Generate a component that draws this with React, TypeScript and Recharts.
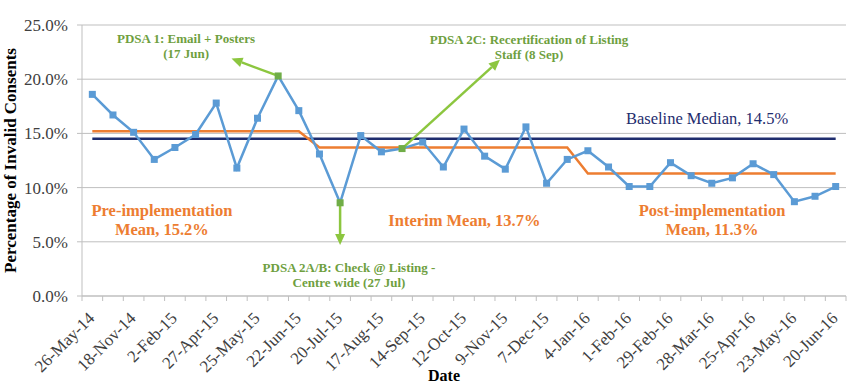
import React from "react";
import {
  CartesianGrid,
  Label,
  Line,
  LineChart,
  ReferenceDot,
  ReferenceLine,
  XAxis,
  YAxis,
} from "recharts";

// fortnightly audit periods (only every other one gets a tick label)
const dates = [
  "26-May-14", "18-Aug-14", "18-Nov-14", "15-Dec-14", "2-Feb-15", "2-Mar-15",
  "27-Apr-15", "11-May-15", "25-May-15", "8-Jun-15", "22-Jun-15", "6-Jul-15",
  "20-Jul-15", "3-Aug-15", "17-Aug-15", "31-Aug-15", "14-Sep-15", "28-Sep-15",
  "12-Oct-15", "26-Oct-15", "9-Nov-15", "23-Nov-15", "7-Dec-15", "21-Dec-15",
  "4-Jan-16", "18-Jan-16", "1-Feb-16", "15-Feb-16", "29-Feb-16", "14-Mar-16",
  "28-Mar-16", "11-Apr-16", "25-Apr-16", "9-May-16", "23-May-16", "6-Jun-16",
  "20-Jun-16",
];

const invalidPct = [
  18.6, 16.7, 15.1, 12.6, 13.7, 14.9, 17.8, 11.8, 16.4, 20.3, 17.1, 13.1,
  8.6, 14.8, 13.3, 13.6, 14.2, 11.9, 15.4, 12.9, 11.7, 15.6, 10.4, 12.6,
  13.4, 11.9, 10.1, 10.1, 12.3, 11.1, 10.4, 10.9, 12.2, 11.2, 8.7, 9.2, 10.1,
];

// phase means: pre-implementation, interim, post-implementation
const phaseMean = [
  15.2, 15.2, 15.2, 15.2, 15.2, 15.2, 15.2, 15.2, 15.2, 15.2, 15.2,
  13.7, 13.7, 13.7, 13.7, 13.7, 13.7, 13.7, 13.7, 13.7, 13.7, 13.7, 13.7, 13.7,
  11.3, 11.3, 11.3, 11.3, 11.3, 11.3, 11.3, 11.3, 11.3, 11.3, 11.3, 11.3, 11.3,
];

const baselineMedian = 14.5;

// periods in which a PDSA cycle started
const pdsaPeriods = [9, 12, 15];

const yTicks = [0, 5, 10, 15, 20, 25];

const data = dates.map((date, i) => ({
  i,
  date,
  pct: invalidPct[i],
  mean: phaseMean[i],
}));

const FONT = "'Liberation Serif', 'Times New Roman', serif";
const BLUE = "#5b9bd5";
const MARKER_GREEN = "#70ad47";
const ARROW_GREEN = "#8cc63f";
const NOTE_GREEN = "#6f9f3f";
const ORANGE = "#ed7d31";
const NAVY = "#1f2d6e";
const GRID = "#bfbfbf";
const TEXT = "#404040";

const CHART_W = 849;
const CHART_H = 386;
const PLOT_LEFT = 82;
const PLOT_RIGHT = 3;
const STEP = (CHART_W - PLOT_LEFT - PLOT_RIGHT) / dates.length;

function DateTick(props: any) {
  const { x, y, index } = props;
  const half = STEP / 2;
  const tx = x - 1;
  const ty = y + 19;
  return (
    <g>
      <line x1={x - half} y1={y} x2={x - half} y2={y + 5} stroke={GRID} />
      {index === dates.length - 1 && (
        <line x1={x + half} y1={y} x2={x + half} y2={y + 5} stroke={GRID} />
      )}
      {index % 2 === 0 && (
        <text
          x={tx}
          y={ty}
          transform={`rotate(-45, ${tx}, ${ty})`}
          textAnchor="end"
          dy="0.35em"
          fontFamily={FONT}
          fontSize={17}
          fill={TEXT}
        >
          {dates[index]}
        </text>
      )}
    </g>
  );
}

function SquareDot(props: any) {
  const { cx, cy, index } = props;
  const fill = pdsaPeriods.includes(index) ? MARKER_GREEN : BLUE;
  return <rect key={index} x={cx - 3.5} y={cy - 3.5} width={7} height={7} fill={fill} />;
}

function Arrow(props: any) {
  const { x1, y1, x2, y2 } = props;
  const a = Math.atan2(y2 - y1, x2 - x1);
  const len = 11;
  const w = 5;
  const bx = x2 - len * Math.cos(a);
  const by = y2 - len * Math.sin(a);
  const px = -Math.sin(a) * w;
  const py = Math.cos(a) * w;
  return (
    <g>
      <line x1={x1} y1={y1} x2={bx} y2={by} stroke={ARROW_GREEN} strokeWidth={2.5} />
      <polygon
        points={`${x2},${y2} ${bx + px},${by + py} ${bx - px},${by - py}`}
        fill={ARROW_GREEN}
      />
    </g>
  );
}

function note(lines: string[], color: string, size: number, bold: boolean, gap: number) {
  return (props: any) => {
    const { cx, cy } = props;
    return (
      <text
        x={cx}
        y={cy}
        textAnchor="middle"
        fontFamily={FONT}
        fontSize={size}
        fontWeight={bold ? "bold" : "normal"}
        fill={color}
      >
        {lines.map((l, k) => (
          <tspan key={k} x={cx} y={cy + k * gap} dy="0.35em">
            {l}
          </tspan>
        ))}
      </text>
    );
  };
}

export default function App() {
  return (
    <div style={{ position: "absolute", left: 0, top: 0 }}>
      <LineChart
        width={CHART_W}
        height={CHART_H}
        data={data}
        margin={{ top: 25, right: PLOT_RIGHT, left: 12, bottom: 0 }}
      >
        <CartesianGrid vertical={false} stroke={GRID} />
        <XAxis
          dataKey="i"
          type="number"
          domain={[-0.5, dates.length - 0.5]}
          ticks={dates.map((_, i) => i)}
          interval={0}
          height={90}
          tickSize={0}
          tickMargin={0}
          tickLine={false}
          axisLine={{ stroke: GRID }}
          tick={(p: any) => <DateTick key={p.index} {...p} />}
        >
          <Label
            content={({ viewBox }: any) => (
              <text
                x={viewBox.x + viewBox.width / 2 - 20}
                y={viewBox.y + viewBox.height - 5}
                textAnchor="middle"
                fontFamily={FONT}
                fontSize={16}
                fontWeight="bold"
                fill="#000"
              >
                Date
              </text>
            )}
          />
        </XAxis>
        <YAxis
          domain={[0, 25]}
          ticks={yTicks}
          width={70}
          tickSize={5}
          tickMargin={9}
          tickLine={{ stroke: GRID }}
          axisLine={{ stroke: GRID }}
          tickFormatter={(v: number) => `${v.toFixed(1)}%`}
          tick={{ fontFamily: FONT, fontSize: 17, fill: TEXT }}
        >
          <Label
            content={({ viewBox }: any) => {
              const cy = viewBox.y + viewBox.height / 2;
              return (
                <text
                  x={10}
                  y={cy}
                  transform={`rotate(-90, 10, ${cy})`}
                  textAnchor="middle"
                  dy="0.35em"
                  fontFamily={FONT}
                  fontSize={17}
                  fontWeight="bold"
                  fill="#000"
                >
                  Percentage of Invalid Consents
                </text>
              );
            }}
          />
        </YAxis>

        <ReferenceLine
          segment={[
            { x: 0, y: baselineMedian },
            { x: dates.length - 1, y: baselineMedian },
          ]}
          stroke={NAVY}
          strokeWidth={2.5}
        />
        <Line
          dataKey="mean"
          stroke={ORANGE}
          strokeWidth={2.5}
          dot={false}
          activeDot={false}
          isAnimationActive={false}
        />
        <Line
          dataKey="pct"
          stroke={BLUE}
          strokeWidth={2.5}
          dot={(p: any) => <SquareDot key={p.index} {...p} />}
          activeDot={false}
          isAnimationActive={false}
        />

        <ReferenceLine
          segment={[{ x: 9, y: invalidPct[9] }, { x: 6.74, y: 21.9 }]}
          shape={Arrow}
        />
        <ReferenceLine
          segment={[{ x: 15, y: invalidPct[15] }, { x: 19.74, y: 21.8 }]}
          shape={Arrow}
        />
        <ReferenceLine
          segment={[{ x: 12, y: invalidPct[12] }, { x: 12, y: 4.7 }]}
          shape={Arrow}
        />

        <ReferenceDot
          x={4.54}
          y={23.8}
          r={0}
          shape={note(["PDSA 1: Email + Posters", "(17 Jun)"], NOTE_GREEN, 13, true, 15)}
        />
        <ReferenceDot
          x={21.15}
          y={23.7}
          r={0}
          shape={note(["PDSA 2C: Recertification of Listing", "Staff (8 Sep)"], NOTE_GREEN, 13, true, 15)}
        />
        <ReferenceDot
          x={12.43}
          y={2.65}
          r={0}
          shape={note(["PDSA 2A/B: Check @ Listing -", "Centre wide (27 Jul)"], NOTE_GREEN, 13, true, 15)}
        />
        <ReferenceDot
          x={3.37}
          y={7.87}
          r={0}
          shape={note(["Pre-implementation", "Mean, 15.2%"], ORANGE, 16.5, true, 19)}
        />
        <ReferenceDot
          x={18.02}
          y={7.01}
          r={0}
          shape={note(["Interim Mean, 13.7%"], ORANGE, 16.5, true, 19)}
        />
        <ReferenceDot
          x={30.01}
          y={7.93}
          r={0}
          shape={note(["Post-implementation", "Mean, 11.3%"], ORANGE, 16.5, true, 19)}
        />
        <ReferenceDot
          x={29.77}
          y={16.42}
          r={0}
          shape={note(["Baseline Median, 14.5%"], NAVY, 16.5, false, 19)}
        />
      </LineChart>
    </div>
  );
}
